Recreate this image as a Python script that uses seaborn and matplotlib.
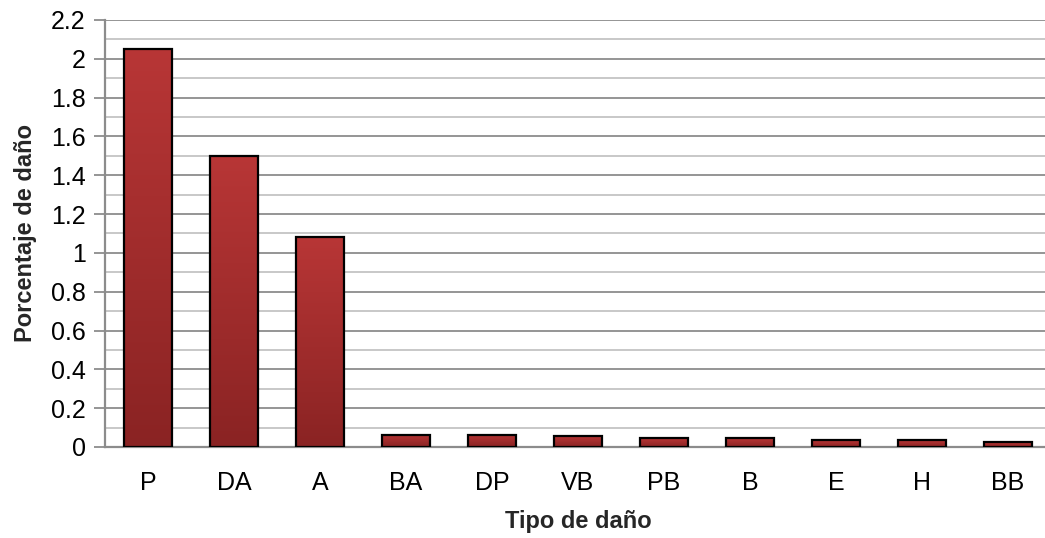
import numpy as np
import pandas as pd
import matplotlib
matplotlib.use("Agg")
import matplotlib.pyplot as plt
import matplotlib.colors as mcolors
import seaborn as sns

categories = ["P", "DA", "A", "BA", "DP", "VB", "PB", "B", "E", "H", "BB"]
values = [2.05, 1.50, 1.08, 0.062, 0.062, 0.056, 0.045, 0.046, 0.035, 0.035, 0.025]
yticklabels = ["0", "0.2", "0.4", "0.6", "0.8", "1", "1.2", "1.4", "1.6", "1.8", "2", "2.2"]

df = pd.DataFrame({"Tipo de daño": categories, "Porcentaje de daño": values})

sns.set_theme(style="white")
plt.rcParams['font.family'] = ['Liberation Sans Narrow', 'Liberation Sans', 'DejaVu Sans']

fig = plt.figure(figsize=(10.45, 5.38), dpi=100)
ax = fig.add_axes([105/1045, 1 - 447/538, 946/1045, (447-20)/538])

sns.barplot(data=df, x="Tipo de daño", y="Porcentaje de daño", ax=ax,
            color="#A83232", saturation=1, width=0.55,
            edgecolor="black", linewidth=1.6, zorder=3)

ax.set_ylim(0, 2.2)
ax.set_xlim(-0.5, len(categories) - 0.5)

# vertical gradient fill inside each bar
cmap = mcolors.LinearSegmentedColormap.from_list("bar", ["#8A2323", "#B83636"])
grad = np.linspace(0, 1, 256).reshape(-1, 1)
for p in list(ax.patches):
    x0, y0 = p.get_x(), p.get_y()
    w, h = p.get_width(), p.get_height()
    im = ax.imshow(grad, cmap=cmap, aspect="auto", origin="lower",
                   extent=[x0, x0 + w, y0, y0 + h], zorder=3.5)
    im.set_clip_path(p)
    p.set_facecolor("none")
    p.set_zorder(4)

ax.set_xlim(-0.5, len(categories) - 0.5)
ax.set_ylim(0, 2.2)
ax.set_yticks(np.arange(0, 2.21, 0.2))
ax.set_yticklabels(yticklabels)
ax.set_yticks(np.arange(0.1, 2.2, 0.2), minor=True)
ax.grid(axis="y", which="major", color="#8c8c8c", linewidth=1.3, zorder=0)
ax.grid(axis="y", which="minor", color="#c4c4c4", linewidth=1.3, zorder=0)
ax.set_axisbelow(True)

for s in ["top", "right"]:
    ax.spines[s].set_visible(False)
for s in ["left", "bottom"]:
    ax.spines[s].set_color("#8c8c8c")
    ax.spines[s].set_linewidth(1.6)

ax.tick_params(axis="y", which="major", left=True, length=8, width=1.3, color="#8c8c8c",
               labelsize=18, pad=6, labelcolor="black")
ax.tick_params(axis="y", which="minor", left=False)
ax.tick_params(axis="x", bottom=False, labelsize=18, pad=11, labelcolor="black")

ax.set_xlabel("Tipo de daño", fontsize=17, fontweight="bold", labelpad=11)
ax.set_ylabel("Porcentaje de daño", fontsize=17, fontweight="bold", labelpad=10)

fig.savefig("out.png", dpi=100)
